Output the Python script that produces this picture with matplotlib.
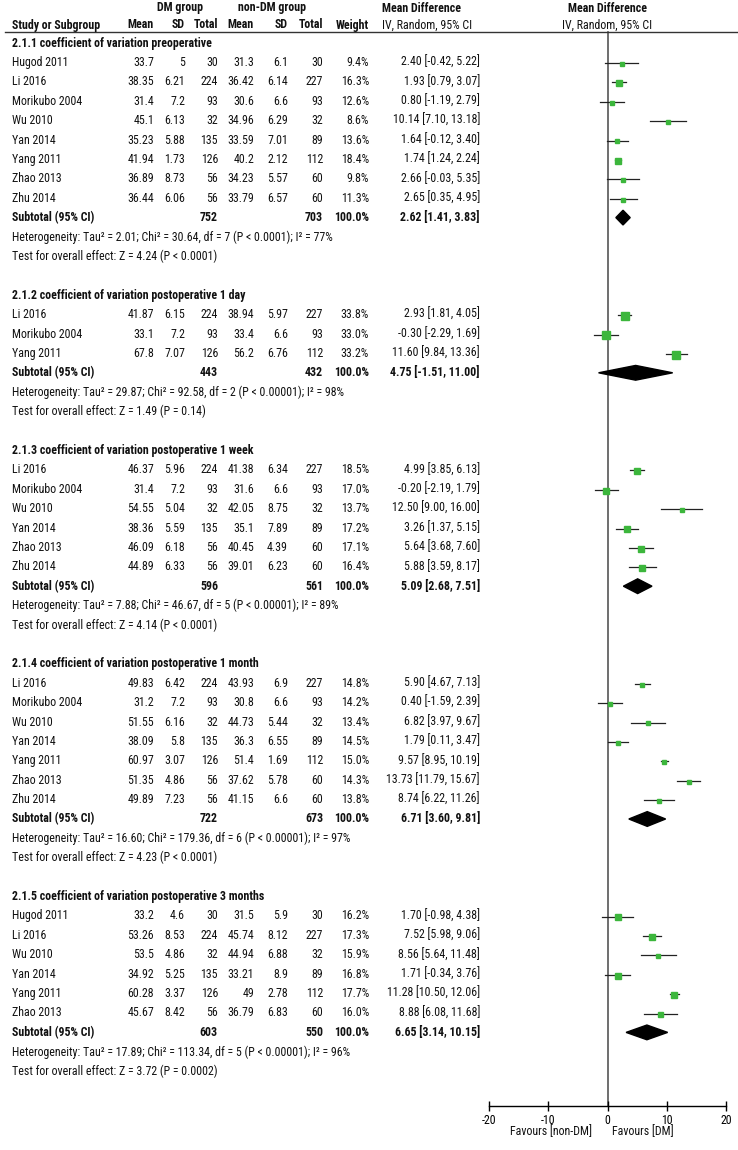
import numpy as np
import matplotlib.pyplot as plt
import matplotlib.transforms as mtransforms
from matplotlib.patches import Polygon

plt.rcParams['font.family'] = ['Roboto Condensed', 'Liberation Sans', 'DejaVu Sans']
plt.rcParams['font.size'] = 8.6

# ---- data ----
sub_title = ['2.1.1 coefficient of variation preoperative',
             '2.1.2 coefficient of variation postoperative 1 day',
             '2.1.3 coefficient of variation postoperative 1 week',
             '2.1.4 coefficient of variation postoperative 1 month',
             '2.1.5 coefficient of variation postoperative 3 months']
sub_n_dm = [752, 443, 596, 722, 603]
sub_n_ctl = [703, 432, 561, 673, 550]
sub_md = [2.62, 4.75, 5.09, 6.71, 6.65]
sub_lo = [1.41, -1.51, 2.68, 3.60, 3.14]
sub_hi = [3.83, 11.00, 7.51, 9.81, 10.15]
sub_het = ['Heterogeneity: Tau² = 2.01; Chi² = 30.64, df = 7 (P < 0.0001); I² = 77%',
           'Heterogeneity: Tau² = 29.87; Chi² = 92.58, df = 2 (P < 0.00001); I² = 98%',
           'Heterogeneity: Tau² = 7.88; Chi² = 46.67, df = 5 (P < 0.00001); I² = 89%',
           'Heterogeneity: Tau² = 16.60; Chi² = 179.36, df = 6 (P < 0.00001); I² = 97%',
           'Heterogeneity: Tau² = 17.89; Chi² = 113.34, df = 5 (P < 0.00001); I² = 96%']
sub_test = ['Test for overall effect: Z = 4.24 (P < 0.0001)',
            'Test for overall effect: Z = 1.49 (P = 0.14)',
            'Test for overall effect: Z = 4.14 (P < 0.0001)',
            'Test for overall effect: Z = 4.23 (P < 0.0001)',
            'Test for overall effect: Z = 3.72 (P = 0.0002)']

group = [0]*8 + [1]*3 + [2]*6 + [3]*7 + [4]*6
study = ['Hugod 2011', 'Li 2016', 'Morikubo 2004', 'Wu 2010', 'Yan 2014', 'Yang 2011', 'Zhao 2013', 'Zhu 2014',
         'Li 2016', 'Morikubo 2004', 'Yang 2011',
         'Li 2016', 'Morikubo 2004', 'Wu 2010', 'Yan 2014', 'Zhao 2013', 'Zhu 2014',
         'Li 2016', 'Morikubo 2004', 'Wu 2010', 'Yan 2014', 'Yang 2011', 'Zhao 2013', 'Zhu 2014',
         'Hugod 2011', 'Li 2016', 'Wu 2010', 'Yan 2014', 'Yang 2011', 'Zhao 2013']
dm_mean = [33.7, 38.35, 31.4, 45.1, 35.23, 41.94, 36.89, 36.44,
           41.87, 33.1, 67.8,
           46.37, 31.4, 54.55, 38.36, 46.09, 44.89,
           49.83, 31.2, 51.55, 38.09, 60.97, 51.35, 49.89,
           33.2, 53.26, 53.5, 34.92, 60.28, 45.67]
dm_sd = [5, 6.21, 7.2, 6.13, 5.88, 1.73, 8.73, 6.06,
         6.15, 7.2, 7.07,
         5.96, 7.2, 5.04, 5.59, 6.18, 6.33,
         6.42, 7.2, 6.16, 5.8, 3.07, 4.86, 7.23,
         4.6, 8.53, 4.86, 5.25, 3.37, 8.42]
dm_n = [30, 224, 93, 32, 135, 126, 56, 56,
        224, 93, 126,
        224, 93, 32, 135, 56, 56,
        224, 93, 32, 135, 126, 56, 56,
        30, 224, 32, 135, 126, 56]
ctl_mean = [31.3, 36.42, 30.6, 34.96, 33.59, 40.2, 34.23, 33.79,
            38.94, 33.4, 56.2,
            41.38, 31.6, 42.05, 35.1, 40.45, 39.01,
            43.93, 30.8, 44.73, 36.3, 51.4, 37.62, 41.15,
            31.5, 45.74, 44.94, 33.21, 49, 36.79]
ctl_sd = [6.1, 6.14, 6.6, 6.29, 7.01, 2.12, 5.57, 6.57,
          5.97, 6.6, 6.76,
          6.34, 6.6, 8.75, 7.89, 4.39, 6.23,
          6.9, 6.6, 5.44, 6.55, 1.69, 5.78, 6.6,
          5.9, 8.12, 6.88, 8.9, 2.78, 6.83]
ctl_n = [30, 227, 93, 32, 89, 112, 60, 60,
         227, 93, 112,
         227, 93, 32, 89, 60, 60,
         227, 93, 32, 89, 112, 60, 60,
         30, 227, 32, 89, 112, 60]
weight = [9.4, 16.3, 12.6, 8.6, 13.6, 18.4, 9.8, 11.3,
          33.8, 33.0, 33.2,
          18.5, 17.0, 13.7, 17.2, 17.1, 16.4,
          14.8, 14.2, 13.4, 14.5, 15.0, 14.3, 13.8,
          16.2, 17.3, 15.9, 16.8, 17.7, 16.0]
md = [2.40, 1.93, 0.80, 10.14, 1.64, 1.74, 2.66, 2.65,
      2.93, -0.30, 11.60,
      4.99, -0.20, 12.50, 3.26, 5.64, 5.88,
      5.90, 0.40, 6.82, 1.79, 9.57, 13.73, 8.74,
      1.70, 7.52, 8.56, 1.71, 11.28, 8.88]
ci_lo = [-0.42, 0.79, -1.19, 7.10, -0.12, 1.24, -0.03, 0.35,
         1.81, -2.29, 9.84,
         3.85, -2.19, 9.00, 1.37, 3.68, 3.59,
         4.67, -1.59, 3.97, 0.11, 8.95, 11.79, 6.22,
         -0.98, 5.98, 5.64, -0.34, 10.50, 6.08]
ci_hi = [5.22, 3.07, 2.79, 13.18, 3.40, 2.24, 5.35, 4.95,
         4.05, 1.69, 13.36,
         6.13, 1.79, 16.00, 5.15, 7.60, 8.17,
         7.13, 2.39, 9.67, 3.47, 10.19, 15.67, 11.26,
         4.38, 9.06, 11.48, 3.76, 12.06, 11.68]
x_ticks = [-20, -10, 0, 10, 20]

# ---- layout (pixel based) ----
W, H = 738, 1150
ROW0, STEP = 43.0, 19.4


def row_of(py):
    return (py - ROW0) / STEP


fig = plt.figure(figsize=(W / 100, H / 100), dpi=100)
ax = fig.add_axes([489 / W, 0, (726 - 489) / W, 1])
ax.set_xlim(-20, 20)
ax.set_ylim(row_of(H), row_of(0))
ax.patch.set_alpha(0)

px = mtransforms.blended_transform_factory(
    mtransforms.Affine2D().scale(1 / W, 1) + fig.transFigure, ax.transData)

green = '#3cb63c'


def put(x, r, s, ha='right', bold=False):
    ax.text(x, r, s, transform=px, ha=ha, va='center', color='#111111',
            fontweight='bold' if bold else 'normal', clip_on=False)


# headers
put(180, row_of(8), 'DM group', ha='center', bold=True)
put(272, row_of(8), 'non-DM group', ha='center', bold=True)
put(382, row_of(8), 'Mean Difference', ha='left', bold=True)
put(607, row_of(8), 'Mean Difference', ha='center', bold=True)
hr = row_of(25)
put(12, hr, 'Study or Subgroup', ha='left', bold=True)
cols = [154, 185, 218, 254, 288, 323, 369]
for x, s in zip(cols, ['Mean', 'SD', 'Total', 'Mean', 'SD', 'Total', 'Weight']):
    put(x, hr, s, bold=True)
put(382, hr, 'IV, Random, 95% CI', ha='left')
put(607, hr, 'IV, Random, 95% CI', ha='center')
ax.plot([5, W], [row_of(32)] * 2, transform=px, color='#333333', lw=1.0, clip_on=False)

axis_row = row_of(1106)
ax.plot([0, 0], [row_of(32), axis_row], color='#555555', lw=1.2, zorder=1)

# body
r = 0
group = np.array(group)
for g in range(len(sub_title)):
    put(12, r, sub_title[g], ha='left', bold=True)
    idx = np.where(group == g)[0]
    for k, i in enumerate(idx):
        y = r + 1 + k
        put(12, y, study[i], ha='left')
        vals = [f'{dm_mean[i]:g}', f'{dm_sd[i]:g}', f'{dm_n[i]}',
                f'{ctl_mean[i]:g}', f'{ctl_sd[i]:g}', f'{ctl_n[i]}', f'{weight[i]:.1f}%']
        for x, s in zip(cols, vals):
            put(x, y, s)
        put(480, y, f'{md[i]:.2f} [{ci_lo[i]:.2f}, {ci_hi[i]:.2f}]')
        ax.plot([ci_lo[i], ci_hi[i]], [y + 0.03] * 2, color='#222222', lw=0.9, zorder=2)
        ax.plot(md[i], y + 0.07, marker='s', color=green, mec=green,
                markersize=0.9 * np.sqrt(weight[i]), zorder=3)
    ys = r + 1 + len(idx)
    put(12, ys, 'Subtotal (95% CI)', ha='left', bold=True)
    put(cols[2], ys, str(sub_n_dm[g]), bold=True)
    put(cols[5], ys, str(sub_n_ctl[g]), bold=True)
    put(cols[6], ys, '100.0%', bold=True)
    put(480, ys, f'{sub_md[g]:.2f} [{sub_lo[g]:.2f}, {sub_hi[g]:.2f}]', bold=True)
    h = 0.38
    ax.add_patch(Polygon([[sub_lo[g], ys], [sub_md[g], ys - h], [sub_hi[g], ys], [sub_md[g], ys + h]],
                         closed=True, color='black', zorder=3))
    put(12, ys + 1, sub_het[g], ha='left')
    put(12, ys + 2, sub_test[g], ha='left')
    r = ys + 4

# bottom axis
for s in ['top', 'left', 'right']:
    ax.spines[s].set_visible(False)
ax.spines['bottom'].set_position(('data', axis_row))
ax.spines['bottom'].set_linewidth(1.0)
ax.set_yticks([])
ax.set_xticks(x_ticks)
ax.set_xticklabels([str(t) for t in x_ticks])
ax.tick_params(axis='x', direction='inout', length=7, width=1.0, pad=2, labelsize=8.6)
put(592, row_of(1132), 'Favours [non-DM]', ha='right')
put(612, row_of(1132), 'Favours [DM]', ha='left')

fig.savefig('out.png', dpi=100)
